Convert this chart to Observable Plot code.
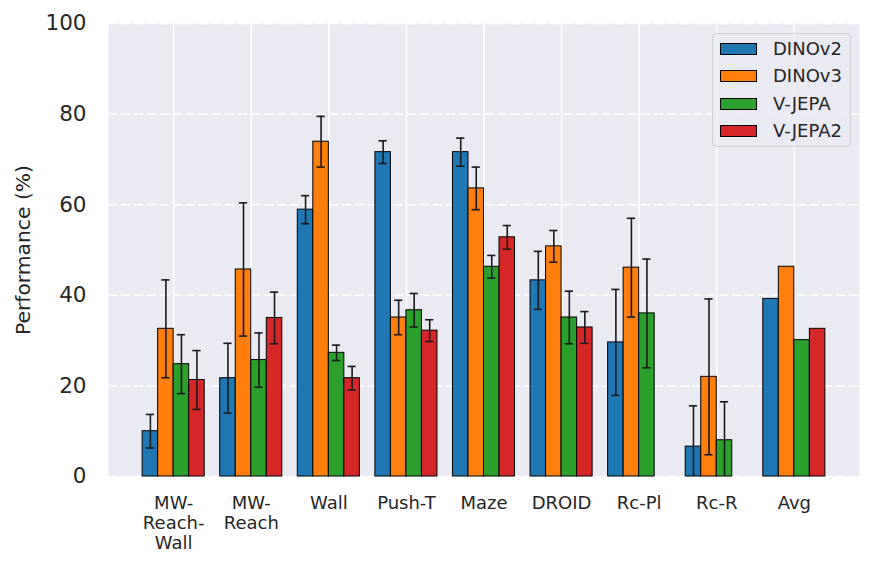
<!DOCTYPE html>
<html>
<head>
<meta charset="utf-8">
<script src="https://cdn.jsdelivr.net/npm/d3@7"></script>
<script src="https://cdn.jsdelivr.net/npm/@observablehq/plot@0.6"></script>
<style>
  body { margin: 0; background: #ffffff; }
  #wrap { position: relative; width: 876px; height: 571px; font-family: "DejaVu Sans", sans-serif; }
  #legend { position: absolute; left: 712px; top: 33px; width: 139px; height: 114px;
    background: rgba(234,234,242,0.8); border: 1px solid #cfcfd4; border-radius: 4px; box-sizing: border-box; }
  .row { position: absolute; left: 7px; height: 20px; display: flex; align-items: center; }
  .sw { width: 37px; height: 12px; border: 1px solid #000; box-sizing: border-box; margin-right: 16px; }
  .lab { font-size: 18px; color: #262626; line-height: 20px; }
</style>
</head>
<body>
<div id="wrap"><div id="chart"></div><div id="legend"></div></div>
<script>
const tasks = ["MW-Reach-Wall", "MW-Reach", "Wall", "Push-T", "Maze", "DROID", "Rc-Pl", "Rc-R", "Avg"];
const tickLabels = ["MW-\nReach-\nWall", "MW-\nReach", "Wall", "Push-T", "Maze", "DROID", "Rc-Pl", "Rc-R", "Avg"];
const models = ["DINOv2", "DINOv3", "V-JEPA", "V-JEPA2"];
const colors = ["#1f77b4", "#ff7f0e", "#2ca02c", "#d62728"];

const dinov2    = [10.0, 21.7, 58.9, 71.6, 71.6, 43.3, 29.6, 6.6, 39.2];
const dinov2Err = [3.7, 7.7, 3.1, 2.5, 3.1, 6.4, 11.7, 9.0, null];
const dinov3    = [32.6, 45.7, 73.9, 35.1, 63.6, 50.8, 46.1, 22.0, 46.3];
const dinov3Err = [10.8, 14.7, 5.6, 3.8, 4.7, 3.5, 10.9, 17.2, null];
const vjepa     = [24.8, 25.7, 27.3, 36.7, 46.3, 35.1, 36.0, 8.0, 30.1];
const vjepaErr  = [6.5, 6.0, 1.7, 3.7, 2.5, 5.8, 12.0, 8.5, null];
const vjepa2    = [21.3, 35.0, 21.7, 32.2, 52.8, 32.9, null, null, 32.6];
const vjepa2Err = [6.5, 5.7, 2.6, 2.4, 2.6, 3.5, null, null, null];

const yTicks = [0, 20, 40, 60, 80, 100];

const values = [dinov2, dinov3, vjepa, vjepa2];
const errors = [dinov2Err, dinov3Err, vjepaErr, vjepa2Err];
const barW = 0.2;
const rows = [];
models.forEach((m, j) => {
  tasks.forEach((t, i) => {
    const v = values[j][i];
    if (v == null) return;
    const c = i + (j - 1.5) * barW;
    rows.push({task: t, model: m, ti: i, c, x1: c - barW / 2, x2: c + barW / 2, v, e: errors[j][i]});
  });
});
const errRows = rows.filter(d => d.e != null);
const capHalf = 0.053;

const chart = Plot.plot({
  width: 876,
  height: 571,
  marginLeft: 108,
  marginRight: 17,
  marginTop: 23,
  marginBottom: 95,
  style: {fontFamily: "DejaVu Sans, sans-serif", color: "#262626", background: "white"},
  x: {domain: [-0.84, 8.84], axis: null},
  y: {domain: [0, 100], axis: null},
  color: {domain: models, range: colors},
  marks: [
    Plot.frame({fill: "#eaeaf2", stroke: "none"}),
    Plot.gridY({ticks: yTicks, stroke: "white", strokeOpacity: 1, strokeWidth: 1.5, strokeDasharray: "9,4"}),
    Plot.gridX({ticks: d3.range(tasks.length), stroke: "white", strokeOpacity: 1, strokeWidth: 1.5}),
    Plot.rectY(rows, {x1: "x1", x2: "x2", y1: 0, y2: "v", fill: "model", stroke: "black", strokeWidth: 1}),
    Plot.ruleX(errRows, {x: "c", y1: d => d.v - d.e, y2: d => d.v + d.e, stroke: "#1a1a1a", strokeWidth: 1.6, clip: true}),
    Plot.ruleY(errRows, {y: d => d.v + d.e, x1: d => d.c - capHalf, x2: d => d.c + capHalf, stroke: "#1a1a1a", strokeWidth: 1.6, clip: true}),
    Plot.ruleY(errRows, {y: d => d.v - d.e, x1: d => d.c - capHalf, x2: d => d.c + capHalf, stroke: "#1a1a1a", strokeWidth: 1.6, clip: true}),
    Plot.axisY({ticks: yTicks, tickSize: 0, tickPadding: 22, fontSize: 21.5, label: null}),
    Plot.axisY({ticks: [], tickSize: 0, fontSize: 20.3, label: "Performance (%)", labelAnchor: "center", labelArrow: "none", labelOffset: 93}),
    Plot.axisX({ticks: d3.range(tasks.length), tickFormat: i => tickLabels[i], tickSize: 0, tickPadding: 18, fontSize: 18, lineHeight: 1.12, label: null})
  ]
});
document.getElementById("chart").appendChild(chart);

const legend = document.getElementById("legend");
models.forEach((m, j) => {
  const row = document.createElement("div");
  row.className = "row";
  row.style.top = (5 + j * 27.3) + "px";
  const sw = document.createElement("div");
  sw.className = "sw";
  sw.style.background = colors[j];
  const lab = document.createElement("span");
  lab.className = "lab";
  lab.textContent = m;
  row.appendChild(sw);
  row.appendChild(lab);
  legend.appendChild(row);
});
</script>
</body>
</html>
